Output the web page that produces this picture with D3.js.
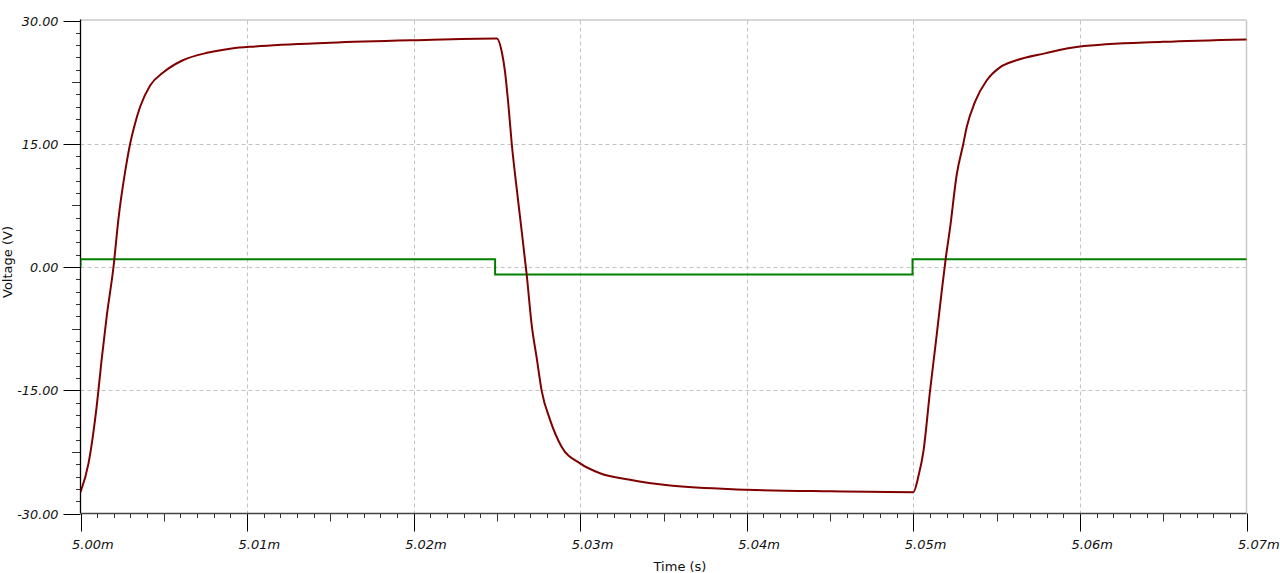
<!DOCTYPE html>
<html>
<head>
<meta charset="utf-8">
<script src="https://cdn.jsdelivr.net/npm/d3@7"></script>
<style>
  html, body { margin: 0; padding: 0; background: #fff; }
  svg { display: block; }
</style>
</head>
<body>
<svg id="chart" width="1280" height="573"></svg>
<script>
// ---- data ----
// time offsets in microseconds after 5.000 ms
const outTimeUs = [0, 0.48, 0.98, 1.28, 1.58, 1.98, 2.28, 2.68, 2.98, 3.24, 3.58, 4.18, 4.98, 6.08, 7.68, 9.08, 10.5, 15, 20,
  24.99, 25.29, 25.49, 25.69, 25.89, 26.19, 26.49, 26.79, 27.09, 27.39, 27.69, 28.19, 28.89, 29.99, 31.19, 32.99, 35.4, 40, 45,
  50.0, 50.3, 50.6, 51.0, 51.4, 51.7, 51.94, 52.2, 52.6, 53.0, 53.2, 53.7, 54.4, 55.2, 56.1, 57.9, 59.9, 65, 70];
const outVolts = [-27.4, -23.9, -16.8, -11.1, -5.9, 0, 5.9, 11.6, 15.0, 17.2, 19.5, 22.1, 23.7, 25.1, 26.1, 26.6, 26.85, 27.3, 27.6,
  27.8, 26.2, 23.7, 19.7, 15.0, 9.5, 4.3, -1.0, -7.1, -11.1, -15.1, -18.6, -21.9, -23.9, -25.1, -25.9, -26.6, -27.1, -27.3,
  -27.4, -25.5, -22.5, -15.1, -8.3, -3.0, 1.0, 4.7, 11.2, 15.0, 17.0, 20.1, 22.7, 24.3, 25.1, 26.0, 26.8, 27.4, 27.7];
const inTimeUs = [0, 0, 24.89, 24.89, 49.95, 49.95, 70];
const inVolts = [0, 0.94, 0.94, -0.92, -0.92, 0.94, 0.94];

const xTickValues = [5.00, 5.01, 5.02, 5.03, 5.04, 5.05, 5.06, 5.07];
const xTickLabels = ["5.00m", "5.01m", "5.02m", "5.03m", "5.04m", "5.05m", "5.06m", "5.07m"];
const yTickValues = [30, 15, 0, -15, -30];
const yTickLabels = ["30.00", "15.00", "0.00", "-15.00", "-30.00"];
const xTitle = "Time (s)";
const yTitle = "Voltage (V)";

// ---- layout ----
const svg = d3.select("#chart");
const pL = 80.5, pR = 1246.5, pT = 20.5, pB = 513.5;
const x = d3.scaleLinear().domain([5.00, 5.07]).range([pL, pR]);
const y = d3.scaleLinear().domain([-30, 30]).range([pB, pT]);
const tx = us => 5.0 + us / 1000;

const outData = outTimeUs.map((t, i) => ({ t: tx(t), v: outVolts[i] }));
const inData = inTimeUs.map((t, i) => ({ t: tx(t), v: inVolts[i] }));

const font = "DejaVu Sans, Verdana, sans-serif";

// grid
const grid = svg.append("g");
xTickValues.slice(1, -1).forEach(v => {
  grid.append("line").attr("x1", Math.round(x(v)) + 0.5).attr("x2", Math.round(x(v)) + 0.5)
    .attr("y1", pT).attr("y2", pB)
    .attr("stroke", "#c4c4c4").attr("stroke-dasharray", "4,3");
});
yTickValues.slice(1, -1).forEach(v => {
  grid.append("line").attr("y1", Math.round(y(v)) + 0.5).attr("y2", Math.round(y(v)) + 0.5)
    .attr("x1", pL).attr("x2", pR)
    .attr("stroke", "#c4c4c4").attr("stroke-dasharray", "4,3");
});
// top and right border
svg.append("line").attr("x1", pL).attr("x2", pR).attr("y1", pT - 0.5).attr("y2", pT - 0.5)
  .attr("stroke", "#c8c8c8").attr("stroke-width", 1.5);
svg.append("line").attr("x1", pR).attr("x2", pR).attr("y1", pT).attr("y2", pB)
  .attr("stroke", "#c8c8c8").attr("stroke-width", 1.5);

// ticks
const ax = svg.append("g").attr("stroke-width", 1);
for (let i = 0; i <= 70; i++) {
  const v = 5.0 + i / 1000;
  const len = (i % 10 === 0) ? 18 : (i % 5 === 0 ? 8 : 4.5);
  const xx = Math.round(x(v)) + 0.5;
  ax.append("line").attr("x1", xx).attr("x2", xx).attr("y1", pB).attr("y2", pB + len)
    .attr("stroke", i % 10 === 0 ? "#000" : "#333");
}
for (let i = 0; i <= 40; i++) {
  const v = -30 + i * 1.5;
  const len = (i % 10 === 0) ? 17 : (i % 5 === 0 ? 8.5 : 4.5);
  const yy = Math.round(y(v)) + 0.5;
  ax.append("line").attr("x1", pL - len).attr("x2", pL).attr("y1", yy).attr("y2", yy)
    .attr("stroke", i % 10 === 0 ? "#000" : "#333");
}
// axis lines
svg.append("line").attr("x1", pL).attr("x2", pL).attr("y1", pT - 1).attr("y2", pB)
  .attr("stroke", "#000").attr("stroke-width", 1.3);
svg.append("line").attr("x1", pL).attr("x2", pR).attr("y1", pB).attr("y2", pB)
  .attr("stroke", "#444").attr("stroke-width", 1.5);

// tick labels
xTickValues.forEach((v, i) => {
  svg.append("text").attr("x", x(v) - 8.5).attr("y", 549)
    .attr("font-family", font).attr("font-size", 13).attr("font-style", "italic")
    .attr("fill", "#111").text(xTickLabels[i]);
});
yTickValues.forEach((v, i) => {
  svg.append("text").attr("x", 58.5).attr("y", y(v) + 5).attr("text-anchor", "end")
    .attr("font-family", font).attr("font-size", 12.8).attr("font-style", "italic")
    .attr("fill", "#111").text(yTickLabels[i]);
});

// titles
svg.append("text").attr("x", 680).attr("y", 571).attr("text-anchor", "middle")
  .attr("font-family", font).attr("font-size", 13).attr("fill", "#111").text(xTitle);
svg.append("text").attr("transform", "translate(12,262) rotate(-90)").attr("text-anchor", "middle")
  .attr("font-family", font).attr("font-size", 13).attr("fill", "#111").text(yTitle);

// series
svg.append("clipPath").attr("id", "clip").append("rect")
  .attr("x", pL).attr("y", pT - 2).attr("width", pR - pL + 2).attr("height", pB - pT + 2);
svg.append("path").datum(inData)
  .attr("d", d3.line().x(d => x(d.t)).y(d => y(d.v)).curve(d3.curveLinear))
  .attr("fill", "none").attr("stroke", "#008000").attr("stroke-width", 2).attr("clip-path", "url(#clip)");
svg.append("path").datum(outData)
  .attr("d", d3.line().x(d => x(d.t)).y(d => y(d.v)).curve(d3.curveMonotoneX))
  .attr("fill", "none").attr("stroke", "#800000").attr("stroke-width", 2).attr("clip-path", "url(#clip)");
</script>
</body>
</html>
